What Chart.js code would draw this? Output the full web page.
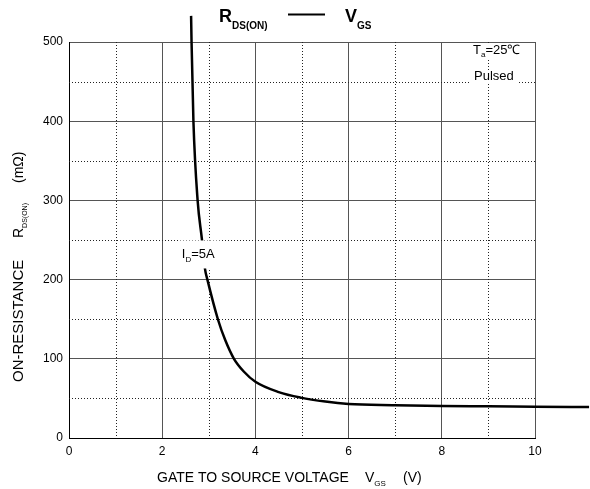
<!DOCTYPE html>
<html>
<head>
<meta charset="utf-8">
<script src="https://cdn.jsdelivr.net/npm/chart.js@4/dist/chart.umd.min.js"></script>
<style>
  html, body { margin: 0; padding: 0; background: #fff; }
  #wrap { width: 590px; height: 489px; position: relative; }
</style>
</head>
<body>
<div id="wrap"><canvas id="chart" width="590" height="489"></canvas></div>
<script>
// values
const vgs = [2.62, 2.63, 2.67, 2.76, 2.85, 2.92, 2.97, 3.2, 3.35, 3.54, 3.75, 4.0, 4.5, 4.97, 5.5, 6, 7, 8, 9, 10, 11.16];
const rds = [533, 500, 400, 300, 252, 213, 200, 149, 124, 100, 84, 71, 58, 51, 46, 43, 41.5, 40.4, 40, 39.5, 39];
const minorX = [1, 3, 5, 7, 9];
const minorY = [50, 150, 250, 350, 450];

const FONT = 'Arial, "Liberation Sans", sans-serif';

// draws a run of text pieces, each with its own font and baseline shift
function drawRun(ctx, parts, x, y) {
    let cx = x;
    parts.forEach(p => {
        ctx.font = p.font;
        ctx.fillText(p.t, cx, y + (p.dy || 0));
        cx += ctx.measureText(p.t).width;
    });
    return cx;
}

const extras = {
    id: 'extras',
    beforeDatasetsDraw(chart) {
        const ctx = chart.ctx;
        const xs = chart.scales.x, ys = chart.scales.y;
        const a = chart.chartArea;
        ctx.save();
        ctx.strokeStyle = '#222';
        ctx.lineWidth = 1;
        ctx.setLineDash([1, 2]);
        minorX.forEach(v => {
            const px = Math.round(xs.getPixelForValue(v)) + 0.5;
            ctx.beginPath(); ctx.moveTo(px, a.top); ctx.lineTo(px, a.bottom); ctx.stroke();
        });
        minorY.forEach(v => {
            const py = Math.round(ys.getPixelForValue(v)) + 0.5;
            ctx.beginPath(); ctx.moveTo(a.left, py); ctx.lineTo(a.right, py); ctx.stroke();
        });
        ctx.restore();
    },
    afterDatasetsDraw(chart) {
        const ctx = chart.ctx;
        const xs = chart.scales.x, ys = chart.scales.y;
        ctx.save();
        ctx.fillStyle = '#000';
        ctx.textBaseline = 'alphabetic';
        ctx.textAlign = 'left';

        // I_D = 5A label with white box cutting the curve
        const lx = xs.getPixelForValue(2.42), ly = ys.getPixelForValue(233);
        ctx.fillStyle = '#fff';
        ctx.fillRect(lx - 2, ly - 13, 40, 28);
        ctx.fillStyle = '#000';
        drawRun(ctx, [
            { t: 'I', font: '13px ' + FONT },
            { t: 'D', font: '8px ' + FONT, dy: 4 },
            { t: '=5A', font: '13px ' + FONT }
        ], lx, ly + 5);

        // Ta / Pulsed notes
        ctx.fillStyle = '#fff';
        ctx.fillRect(470, 44, 58, 14);
        ctx.fillRect(470, 70, 48, 14);
        ctx.fillStyle = '#000';
        drawRun(ctx, [
            { t: 'T', font: '13px ' + FONT },
            { t: 'a', font: '8px ' + FONT, dy: 3 },
            { t: '=25\u2103', font: '13px ' + FONT }
        ], 473, 54);
        ctx.font = '13px ' + FONT;
        ctx.fillText('Pulsed', 474, 80);

        // title
        drawRun(ctx, [
            { t: 'R', font: 'bold 18px ' + FONT },
            { t: 'DS(ON)', font: 'bold 10px ' + FONT, dy: 7 }
        ], 219, 22);
        ctx.strokeStyle = '#000';
        ctx.lineWidth = 2;
        ctx.beginPath(); ctx.moveTo(288, 14.5); ctx.lineTo(325, 14.5); ctx.stroke();
        drawRun(ctx, [
            { t: 'V', font: 'bold 18px ' + FONT },
            { t: 'GS', font: 'bold 10px ' + FONT, dy: 7 }
        ], 345, 22);

        // x axis title
        ctx.font = '14px ' + FONT;
        ctx.fillText('GATE TO SOURCE VOLTAGE', 157, 482);
        drawRun(ctx, [
            { t: 'V', font: '14px ' + FONT },
            { t: 'GS', font: '8px ' + FONT, dy: 4 },
        ], 365, 482);
        ctx.font = '14px ' + FONT;
        ctx.fillText('(V)', 403, 482);

        // y axis title
        ctx.translate(23, 382);
        ctx.rotate(-Math.PI / 2);
        ctx.font = '15px ' + FONT;
        ctx.fillText('ON-RESISTANCE', 0, 0);
        drawRun(ctx, [
            { t: 'R', font: '14px ' + FONT },
            { t: 'DS(ON)', font: '7px ' + FONT, dy: 4 }
        ], 144, 0);
        ctx.font = '14px ' + FONT;
        ctx.fillText('(m\u03A9)', 199, 0);
        ctx.restore();
    }
};

const points = vgs.map((v, i) => ({ x: v, y: rds[i] }));

new Chart(document.getElementById('chart'), {
    type: 'line',
    data: {
        datasets: [{
            data: points,
            borderColor: '#000',
            borderWidth: 2.5,
            pointRadius: 0,
            fill: false,
            clip: false,
            cubicInterpolationMode: 'monotone'
        }]
    },
    options: {
        responsive: false,
        animation: false,
        layout: { padding: { top: 42, right: 55, left: 0, bottom: 0 } },
        plugins: { legend: { display: false }, tooltip: { enabled: false } },
        scales: {
            x: {
                type: 'linear',
                // range set here (not via min/max) so the curve past 10 V is still drawn
                afterDataLimits: s => { s.min = 0; s.max = 10; },
                ticks: { stepSize: 2, color: '#000', padding: 6, font: { size: 12, family: FONT } },
                grid: { color: '#555', lineWidth: 1, drawTicks: false },
                border: { color: '#000', width: 1 },
                afterFit: s => { s.height = 51; }
            },
            y: {
                afterDataLimits: s => { s.min = 0; s.max = 500; },
                ticks: { stepSize: 100, color: '#000', padding: 6, font: { size: 12, family: FONT } },
                grid: { color: '#555', lineWidth: 1, drawTicks: false },
                border: { color: '#000', width: 1 },
                afterFit: s => { s.width = 69; }
            }
        }
    },
    plugins: [extras]
});
</script>
</body>
</html>
